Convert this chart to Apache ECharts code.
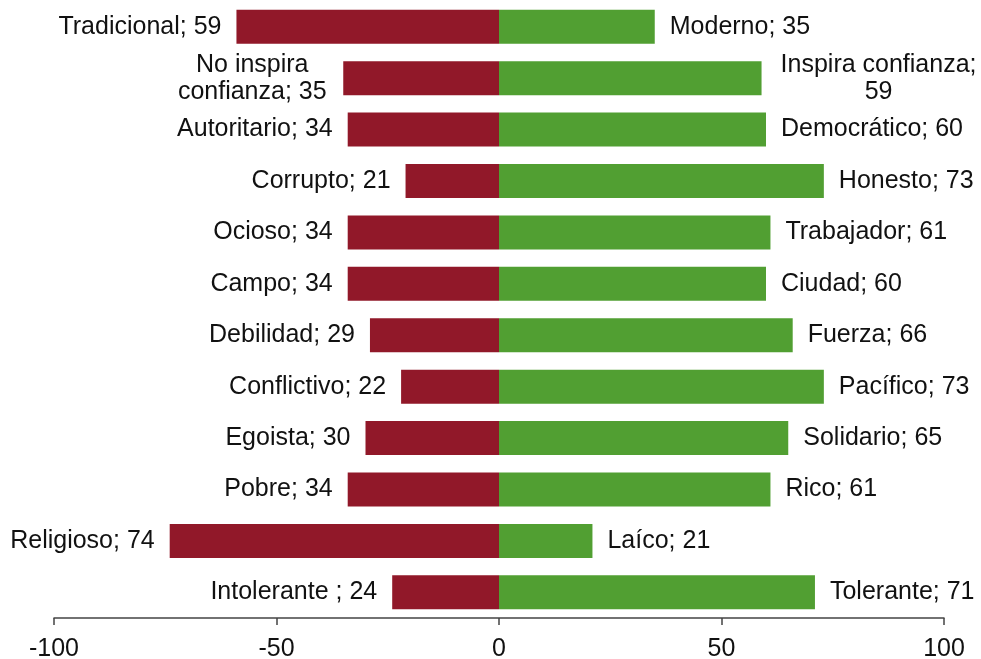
<!DOCTYPE html>
<html>
<head>
<meta charset="utf-8">
<script src="https://cdn.jsdelivr.net/npm/echarts@6/dist/echarts.min.js"></script>
<style>
  html, body { margin: 0; padding: 0; background: #fff; }
  #chart { width: 981px; height: 659px; }
</style>
</head>
<body>
<div id="chart"></div>
<script>
// negative pole (left) and positive pole (right), top row first
var leftNames = ['Tradicional', 'No inspira\nconfianza', 'Autoritario', 'Corrupto', 'Ocioso', 'Campo',
  'Debilidad', 'Conflictivo', 'Egoista', 'Pobre', 'Religioso', 'Intolerante ']
var leftValues = [59, 35, 34, 21, 34, 34, 29, 22, 30, 34, 74, 24]
var rightNames = ['Moderno', 'Inspira confianza', 'Democrático', 'Honesto', 'Trabajador', 'Ciudad',
  'Fuerza', 'Pacífico', 'Solidario', 'Rico', 'Laíco', 'Tolerante']
var rightValues = [35, 59, 60, 73, 61, 60, 66, 73, 65, 61, 21, 71]
var xTicks = [-100, -50, 0, 50, 100]

var FONT = '"Liberation Sans", Arial, sans-serif'
var chart = echarts.init(document.getElementById('chart'))

var cats = leftNames.map(function(n, i) { return 'r' + i })

var leftData = leftValues.map(function(v, i) {
  var item = { value: -v, name: leftNames[i] }
  if (leftNames[i].indexOf('\n') >= 0) {
    item.label = { align: 'center', offset: [-76, 0] }
  }
  return item
})
var rightData = rightValues.map(function(v, i) {
  var item = { value: v, name: rightNames[i] }
  if (rightNames[i] === 'Inspira confianza') {
    item.label = {
      align: 'center',
      offset: [102, 0],
      formatter: function(p) { return p.name + ';\n' + Math.abs(p.value) }
    }
  }
  return item
})

var labelBase = {
  show: true,
  fontFamily: FONT,
  fontSize: 25,
  lineHeight: 27,
  color: '#111',
  distance: 15,
  formatter: function(p) { return p.name + '; ' + Math.abs(p.value) }
}

chart.setOption({
  animation: false,
  grid: {
    left: 54,
    right: 37,
    top: 1,
    bottom: 41,
    outerBoundsMode: 'none'
  },
  xAxis: {
    type: 'value',
    min: xTicks[0],
    max: xTicks[xTicks.length - 1],
    interval: 50,
    splitLine: { show: false },
    axisLine: { show: true, onZero: false, lineStyle: { color: '#444', width: 1.5 } },
    axisTick: { show: true, length: 7, lineStyle: { color: '#444', width: 1.5 } },
    axisLabel: { fontFamily: FONT, fontSize: 25, color: '#111', margin: 19 }
  },
  yAxis: {
    type: 'category',
    inverse: true,
    data: cats,
    show: false
  },
  series: [
    {
      name: 'left',
      type: 'bar',
      stack: 'total',
      barWidth: 34,
      itemStyle: { color: '#911829' },
      label: Object.assign({}, labelBase, { position: 'left' }),
      data: leftData
    },
    {
      name: 'right',
      type: 'bar',
      stack: 'total',
      barWidth: 34,
      itemStyle: { color: '#519f32' },
      label: Object.assign({}, labelBase, { position: 'right' }),
      data: rightData
    }
  ]
})
</script>
</body>
</html>
